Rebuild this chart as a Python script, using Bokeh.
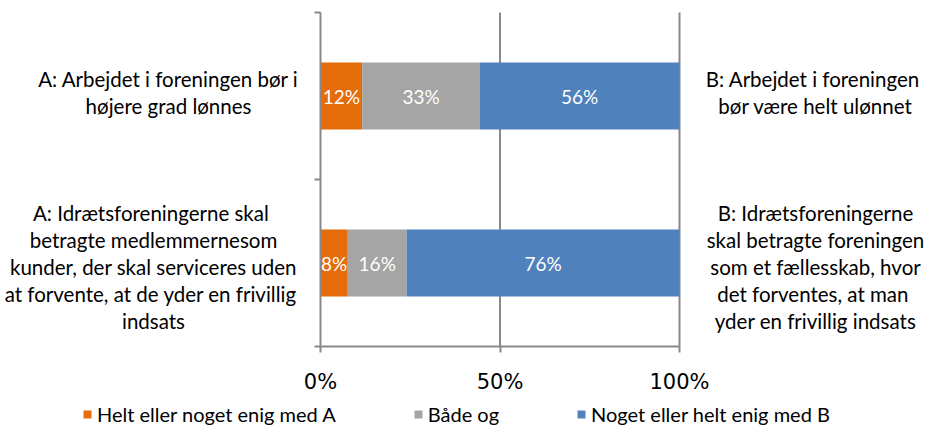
import numpy as np
from bokeh.plotting import figure
from bokeh.models import Range1d, FixedTicker, Legend, LegendItem, ColumnDataSource, LinearAxis
from bokeh.core.properties import value
from bokeh.embed import file_html
from bokeh.resources import INLINE

# ---------------- data ----------------
categories = ["Arbejdet", "Idrætsforeningerne"]          # top to bottom
series_names = ["Helt eller noget enig med A", "Både og", "Noget eller helt enig med B"]
enig_A = [11.6, 7.6]
baade_og = [32.8, 16.4]
enig_B = [55.6, 76.0]
series_colors = ["#E46C0A", "#A5A5A5", "#4F81BD"]
x_ticks = [0, 50, 100]
x_tick_labels = ["0%", "50%", "100%"]
left_texts = [
    ["A: Arbejdet i foreningen bør i", "højere grad lønnes"],
    ["A: Idrætsforeningerne  skal", "betragte medlemmernesom", "kunder, der skal serviceres uden",
     "at forvente,  at de yder en frivillig", "indsats"],
]
right_texts = [
    ["B: Arbejdet  i foreningen", "bør være helt ulønnet"],
    ["B: Idrætsforeningerne", "skal betragte foreningen", "som et fællesskab, hvor",
     "det forventes,  at man", "yder en frivillig indsats"],
]

# ---------------- layout (pixels) ----------------
W, H = 925, 428
X0_PX, X100_PX = 320, 679         # 0% and 100%
YTOP_PX, YBOT_PX = 12, 346        # top / bottom of category axis
FONT = "Lato"
AXIS_COL = "#898989"

xs = (X100_PX - X0_PX) / 100.0
ysc = (YBOT_PX - YTOP_PX) / 2.0
def px2x(px):
    return (px - X0_PX) / xs
def px2y(py):
    return (YBOT_PX - py) / ysc

p = figure(width=W, height=H, output_backend="svg", toolbar_location=None,
           x_range=Range1d(px2x(0), px2x(W)), y_range=Range1d(px2y(H), px2y(0)),
           x_axis_location=None, y_axis_location=None,
           min_border=0, min_border_left=0, min_border_right=0, min_border_top=0, min_border_bottom=0)
p.outline_line_color = None
p.background_fill_color = "white"
p.border_fill_color = "white"
p.xgrid.visible = False
p.ygrid.visible = False

ys = [1.5 - i for i in range(len(categories))]
series = [enig_A, baade_og, enig_B]
vals = np.array(series, dtype=float)
rights = np.cumsum(vals, axis=0)
lefts = rights - vals

# vertical grid lines at tick positions (excluding 0, where the axis is)
grid_x = [t for t in x_ticks if t > 0]
p.segment(x0=grid_x, x1=grid_x, y0=[0] * len(grid_x), y1=[2] * len(grid_x),
          line_color=AXIS_COL, line_width=2)

legend_items = []
for k, name in enumerate(series_names):
    src = ColumnDataSource(dict(y=ys, left=lefts[k], right=rights[k],
                                mid=(lefts[k] + rights[k]) / 2,
                                lab=[f"{v:.0f}%" for v in vals[k]]))
    r = p.hbar(y="y", left="left", right="right", height=0.4, source=src,
               fill_color=series_colors[k], line_color=None)
    p.text(x="mid", y="y", text="lab", source=src, text_align="center", text_baseline="middle",
           text_color="white", text_font=value(FONT), text_font_size="19px")
    legend_items.append(LegendItem(label=name, renderers=[r]))

# axes, drawn at fixed data locations
xa = LinearAxis(fixed_location=0, bounds=(0, 100))
xa.ticker = FixedTicker(ticks=x_ticks)
xa.major_label_overrides = {t: l for t, l in zip(x_ticks, x_tick_labels)}
xa.major_label_text_font = "DejaVu Sans"
xa.major_label_text_font_size = "21px"
xa.major_label_text_color = "black"
xa.major_tick_in = 0
xa.major_tick_out = 6
xa.minor_tick_out = 0
xa.minor_tick_in = 0
xa.major_label_standoff = 17
xa.axis_line_color = AXIS_COL
xa.axis_line_width = 2
xa.major_tick_line_color = AXIS_COL
xa.major_tick_line_width = 2
p.add_layout(xa, "below")

ya = LinearAxis(fixed_location=0, bounds=(0, 2))
ya.ticker = FixedTicker(ticks=[0, 1, 2])
ya.major_label_overrides = {0: "", 1: "", 2: ""}
ya.major_tick_in = 0
ya.major_tick_out = 6
ya.minor_tick_out = 0
ya.minor_tick_in = 0
ya.axis_line_color = AXIS_COL
ya.axis_line_width = 2
ya.major_tick_line_color = AXIS_COL
ya.major_tick_line_width = 2
p.add_layout(ya, "left")

# category statements (one text per line)
LINE_H = 27.0
left_cx = [168, 153]
right_cx = [815, 815]
block_shift = [-3.5, 4.0]
tx, ty, tt = [], [], []
for i, yb in enumerate(ys):
    for texts, cx in ((left_texts[i], left_cx[i]), (right_texts[i], right_cx[i])):
        n = len(texts)
        for j, t in enumerate(texts):
            off_px = (j - (n - 1) / 2) * LINE_H + block_shift[i]
            tx.append(px2x(cx))
            ty.append(yb - off_px / ysc)
            tt.append(t)
p.text(x=tx, y=ty, text=tt, text_align="center", text_baseline="middle",
       text_color="black", text_font=value(FONT), text_font_size="20.5px")

# legend at the bottom
legend = Legend(items=legend_items, orientation="horizontal", location=(82, 2),
                glyph_width=10, glyph_height=10, label_height=20, label_standoff=5, spacing=77,
                padding=0, margin=0, border_line_color=None, background_fill_alpha=0,
                label_text_font=FONT, label_text_font_size="20px", label_text_color="black")
p.add_layout(legend, "center")

open("out.html", "w").write(file_html(p, INLINE))
